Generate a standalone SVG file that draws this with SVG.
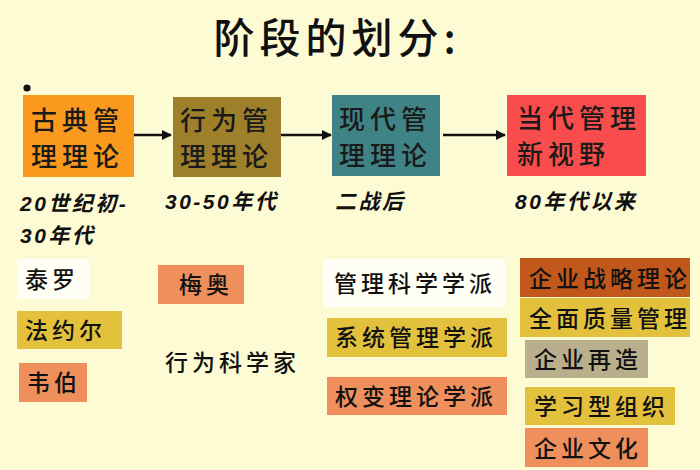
<svg xmlns="http://www.w3.org/2000/svg" width="700" height="470" viewBox="0 0 700 470">
<defs>
<style>
.bg{fill:#FDFBD4}
.t{font-family:"Noto Sans CJK SC","Noto Sans",sans-serif;fill:#111}
.title{font-size:41px;font-weight:500;letter-spacing:5px}
.bx{font-size:26px;font-weight:500;letter-spacing:5px;fill:#1a1a1a}
.era{font-family:"Liberation Sans","Noto Sans CJK SC",sans-serif;font-size:21px;font-weight:700;font-style:italic;fill:#111;letter-spacing:2.5px}
.it{font-size:23px;font-weight:500;letter-spacing:4px}
.conn{stroke:#111;stroke-width:2.5;fill:none}
</style>
<marker id="ah" viewBox="0 0 10 10" refX="9" refY="5" markerWidth="4" markerHeight="4" orient="auto">
<path d="M0,0 L10,5 L0,10 z" fill="#111"/>
</marker>
</defs>
<rect class="bg" x="0" y="0" width="700" height="470"/>
<g id="title"><text class="t title" x="337" y="53" text-anchor="middle">阶段的划分:</text></g>
<circle cx="27" cy="88" r="3.6" fill="#111"/>

<g id="connectors">
<line class="conn" x1="134" y1="135" x2="171" y2="135" marker-end="url(#ah)"/>
<line class="conn" x1="281" y1="135" x2="331" y2="135" marker-end="url(#ah)"/>
<line class="conn" x1="443" y1="135" x2="505" y2="135" marker-end="url(#ah)"/>
</g>

<g id="n-classic">
<rect x="23" y="95" width="111" height="82" fill="#F99A1E"/>
<text class="t bx" x="31" y="130">古典管</text>
<text class="t bx" x="31" y="166">理理论</text>
</g>
<g id="n-behavior">
<rect x="173" y="97" width="108" height="80" fill="#9E802A"/>
<text class="t bx" x="180" y="130">行为管</text>
<text class="t bx" x="180" y="166">理理论</text>
</g>
<g id="n-modern">
<rect x="332" y="95" width="108" height="81" fill="#3F8386"/>
<text class="t bx" x="339" y="129">现代管</text>
<text class="t bx" x="339" y="165">理理论</text>
</g>
<g id="n-contemp">
<rect x="507" y="95" width="139" height="81" fill="#F84D4C"/>
<text class="t bx" x="517" y="128">当代管理</text>
<text class="t bx" x="517" y="164">新视野</text>
</g>

<g id="eras">
<text class="era" x="20" y="211">20世纪初-</text>
<text class="era" x="20" y="243">30年代</text>
<text class="era" x="165" y="209">30-50年代</text>
<text class="era" x="335" y="209">二战后</text>
<text class="era" x="515" y="209">80年代以来</text>
</g>

<g id="n-taylor">
<rect x="17" y="259" width="72" height="40" fill="#FFFFF6"/>
<text class="t it" x="25" y="288">泰罗</text>
</g>
<g id="n-fayol">
<rect x="17" y="311" width="105" height="38" fill="#E3C13C"/>
<text class="t it" x="25" y="339">法约尔</text>
</g>
<g id="n-weber">
<rect x="19" y="363" width="68" height="39" fill="#EF8F5C"/>
<text class="t it" x="27" y="391">韦伯</text>
</g>
<g id="n-mayo">
<rect x="158" y="265" width="86" height="39" fill="#EF8F5C"/>
<text class="t it" x="179" y="293">梅奥</text>
</g>
<g id="n-behsci">
<text class="t it" x="165" y="371">行为科学家</text>
</g>
<g id="n-mgmtsci">
<rect x="323" y="259" width="182" height="48" fill="#FFFFF6"/>
<text class="t it" x="334" y="292">管理科学学派</text>
</g>
<g id="n-system">
<rect x="327" y="318" width="180" height="39" fill="#E3C13C"/>
<text class="t it" x="335" y="346">系统管理学派</text>
</g>
<g id="n-contingency">
<rect x="327" y="377" width="180" height="38" fill="#EF8F5C"/>
<text class="t it" x="335" y="405">权变理论学派</text>
</g>
<g id="n-strategy">
<rect x="520" y="258" width="170" height="39" fill="#C1571B"/>
<text class="t it" x="529" y="287">企业战略理论</text>
</g>
<g id="n-tqm">
<rect x="520" y="298" width="170" height="39" fill="#E3C13C"/>
<text class="t it" x="529" y="327">全面质量管理</text>
</g>
<g id="n-reeng">
<rect x="525" y="340" width="123" height="38" fill="#BAAF8C"/>
<text class="t it" x="534" y="368">企业再造</text>
</g>
<g id="n-learning">
<rect x="525" y="387" width="150" height="38" fill="#E3C13C"/>
<text class="t it" x="534" y="415">学习型组织</text>
</g>
<g id="n-culture">
<rect x="525" y="428" width="123" height="39" fill="#EF8F5C"/>
<text class="t it" x="534" y="457">企业文化</text>
</g>
</svg>
